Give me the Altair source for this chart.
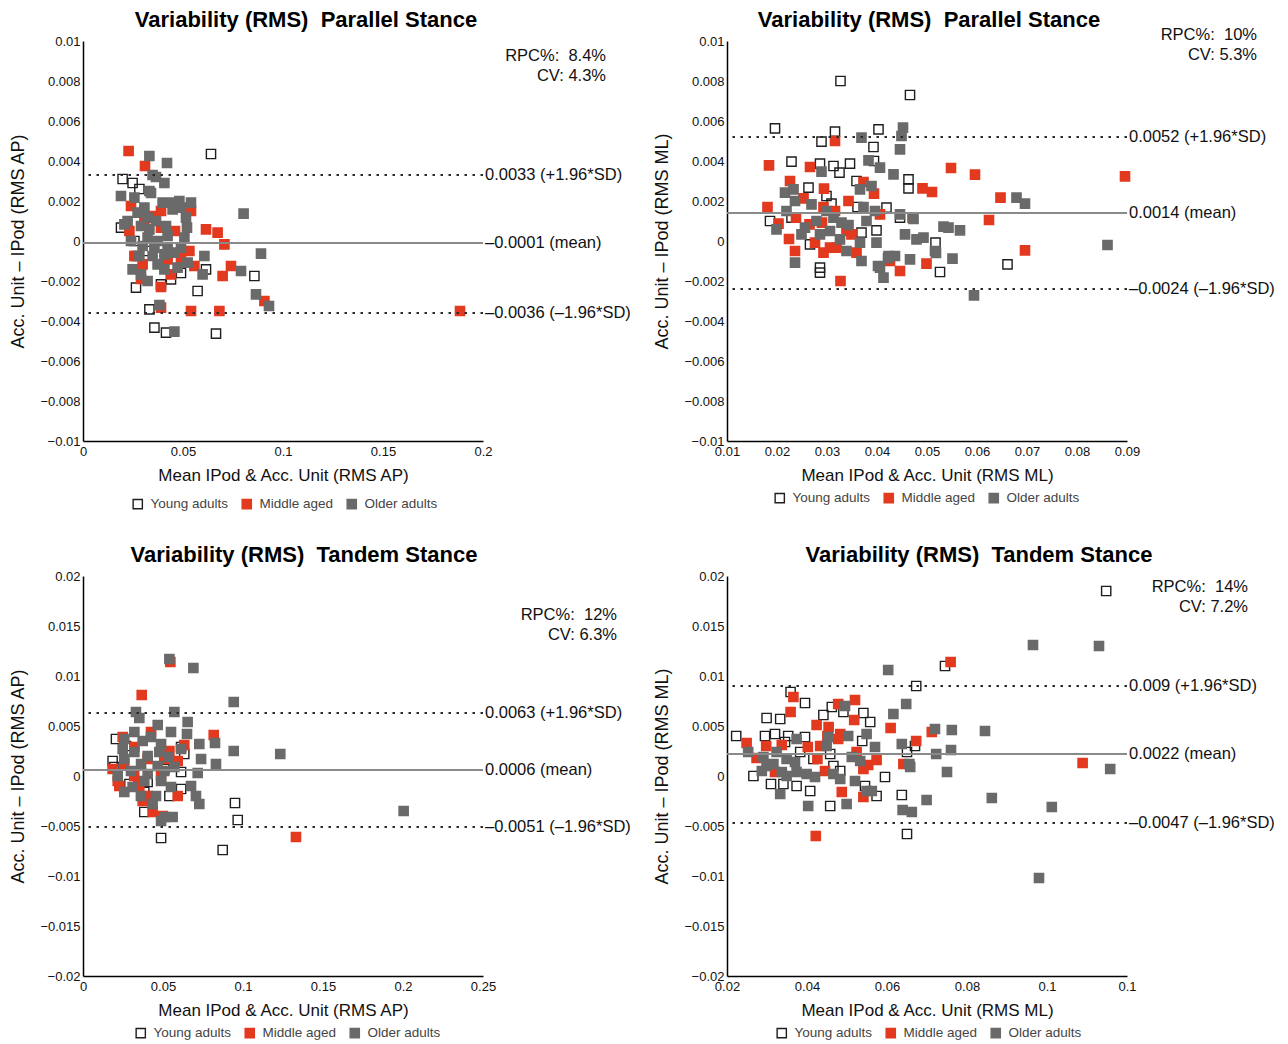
import altair as alt
import pandas as pd

FONT = "Liberation Sans"
GROUPS = ["Young adults", "Middle aged", "Older adults"]
FILL_COLORS = ["transparent", "#e2391f", "#6a6a6a"]
STROKE_COLORS = ["#1e1e1e", "#e2391f", "#6a6a6a"]

# ---------------- Panel 1: Parallel stance, RMS AP ----------------
P1_YOUNG_X = [.0640, .0198, .0248, .0282, .0190, .0257, .0265, .0390, .0440, .0573, .0615, .0857, .0332, .0357, .0415, .0665, .0323, .0490, .0265]
P1_YOUNG_Y = [.00435, .0031, .0029, .0026, .00067, 0, -.00233, -.00217, -.00192, -.0025, -.00142, -.00175, -.00342, -.00433, -.00458, -.00463, -.0005, -.0016, -.00075]
P1_MID_X = [.0228, .0310, .0240, .0348, .0390, .0540, .0232, .0460, .0615, .0673, .0707, .0307, .0390, .0257, .0298, .0423, .0490, .0532, .0557, .0740, .0698, .0907, .0390, .0540, .0682, .0290, .0390, .0440, .1885]
P1_MID_Y = [.0045, .00375, .00175, .00125, .0015, .0015, .0005, .0005, .00058, .00042, -.00017, .00092, .00067, -.00075, -.00117, -.00092, -.00083, -.0005, -.00125, -.00125, -.00175, -.003, -.00333, -.0035, -.0035, -.0019, -.0023, -.00167, -.0035]
P1_OLD_X = [.0332, .0420, .0348, .0365, .0407, .0332, .0190, .0257, .0340, .0398, .0448, .0482, .0540, .0490, .0448, .0515, .0520, .0507, .0803, .0273, .0323, .0365, .0290, .0332, .0415, .0423, .0323, .0373, .0240, .0298, .0357, .0423, .0490, .0282, .0348, .0407, .0457, .0607, .0523, .0373, .0248, .0290, .0323, .0407, .0473, .0598, .0790, .0865, .0930, .0890, .0382, .0457, .0223, .0307, .0207]
P1_OLD_Y = [.00425, .0039, .0033, .0032, .0029, .0025, .00225, .00217, .0024, .00192, .00192, .002, .00192, .00167, .00158, .00117, .00067, .00017, .00137, .00142, .00117, .001, .00075, .00058, .00075, .00025, .00017, 0, 0, -.00025, -.00033, -.00033, -.00033, -.00075, -.00075, -.00067, -.00058, -.00075, -.00108, -.00117, -.00142, -.00167, -.002, -.00142, -.00133, -.00167, -.0015, -.00267, -.00325, -.00063, -.0032, -.00453, .001, .00167, .00083]
P1_LIMITS = [0.0033, -0.0001, -0.0036]
P1_LABELS = ["0.0033 (+1.96*SD)", "\u20130.0001 (mean)", "\u20130.0036 (\u20131.96*SD)"]

# ---------------- Panel 2: Parallel stance, RMS ML ----------------
P2_YOUNG_X = [.0327, .0466, .0196, .0316, .0403, .0289, .0393, .0229, .0286, .0313, .0325, .0346, .0359, .0394, .0463, .0463, .0263, .0299, .0186, .0229, .0309, .0361, .0419, .0399, .0369, .0266, .0286, .0286, .0446, .0517, .0526, .0661]
P2_YOUNG_Y = [.008, .0073, .00563, .00547, .00558, .00497, .0047, .00397, .00387, .00375, .00342, .00387, .003, .004, .00308, .00263, .00267, .00225, .001, .00117, .00187, .0017, .00167, .00053, .00042, -.00017, -.00133, -.00158, .00117, -.00008, -.00155, -.00117]
P2_MID_X = [.0184, .0316, .0266, .0226, .0294, .0253, .0343, .0394, .0181, .0203, .0238, .0265, .0293, .0290, .0316, .0339, .0349, .0406, .0373, .0224, .0276, .0236, .0293, .0306, .0319, .0359, .0327, .0426, .0446, .0491, .0471, .0499, .0548, .0596, .0510, .0647, .0624, .0696, .0896]
P2_MID_Y = [.00378, .005, .0037, .003, .00262, .00213, .002, .00237, .0017, .00087, .00117, .00083, .0017, .00092, .0015, .0005, .00033, .00133, .00295, .0001, -.00008, -.0005, -.00058, -.00033, -.00033, -.00058, -.002, -.001, -.0015, .00263, .00117, -.00113, .00365, .00332, .00245, .00217, .00105, -.00047, .00323]
P2_OLD_X = [.0369, .0449, .0452, .0446, .0383, .0406, .0433, .0289, .0216, .0233, .0236, .0389, .0366, .0269, .0299, .0373, .0396, .0446, .0473, .0219, .0199, .0256, .0279, .0313, .0329, .0343, .0379, .0249, .0286, .0306, .0326, .0366, .0399, .0456, .0479, .0493, .0236, .0339, .0369, .0423, .0436, .0466, .0413, .0406, .0679, .0696, .0533, .0543, .0566, .0516, .0551, .0861, .0594, .0422, .0518, .0402]
P2_OLD_Y = [.00517, .00525, .00567, .00458, .00403, .00367, .00333, .00347, .00242, .00258, .002, .00275, .00258, .00183, .0015, .0017, .0015, .00133, .0011, .0015, .00058, .00067, .001, .00117, .00092, .0008, .001, .00033, .00033, .0005, .00008, -.00008, -.00008, .00033, .00008, .00017, -.00108, -.0005, -.001, -.00075, -.00075, -.00092, -.00183, -.00133, .00217, .00187, .00072, .00067, .00053, -.0005, -.00088, -.0002, -.00272, -.00085, -.0006, -.00125]
P2_LIMITS = [0.0052, 0.0014, -0.0024]
P2_LABELS = ["0.0052 (+1.96*SD)", "0.0014 (mean)", "\u20130.0024 (\u20131.96*SD)"]

# ---------------- Panel 3: Tandem stance, RMS AP ----------------
P3_YOUNG_X = [.0206, .0269, .0613, .0633, .0185, .0196, .0508, .0613, .0290, .0383, .0613, .0383, .0540, .0950, .0967, .0488, .0873, .0404]
P3_YOUNG_Y = [.0037, .0030, .0029, .0022, .0015, .0009, .0007, .0004, -.0008, -.0016, -.0013, -.0036, -.0020, -.0027, -.0044, -.0062, -.0074, -.0006]
P3_MID_X = [.0546, .0367, .0817, .0633, .0248, .0321, .0425, .0540, .0592, .0185, .0258, .0404, .0508, .0217, .0227, .0352, .0404, .0488, .0592, .0373, .0435, .0498, .0320, .1331]
P3_MID_Y = [.0114, .0081, .0041, .0031, .0039, .0029, .0044, .0025, .0015, .0007, .0012, .0017, .0017, -.0005, -.0010, -.0010, -.0020, 0, -.0020, -.0025, -.0036, -.0040, 0, -.0061]
P3_OLD_X = [.0540, .0690, .0942, .0331, .0352, .0571, .0654, .0467, .0321, .0425, .0550, .0650, .0727, .0825, .0942, .1233, .0258, .0373, .0488, .0248, .0321, .0404, .0477, .0533, .0613, .0738, .0831, .0258, .0363, .0467, .0571, .0300, .0404, .0508, .0717, .0217, .0383, .0488, .0675, .0706, .0258, .0362, .0456, .0435, .0550, .0727, .0508, .0560, .0488, .0310, .2004]
P3_OLD_Y = [.0117, .0108, .0074, .0064, .0058, .0064, .0054, .0051, .0044, .0039, .0044, .0042, .0032, .0033, .0025, .0022, .0037, .0035, .0032, .0027, .0024, .0020, .0024, .0019, .0027, .0017, .0012, .0017, .0012, .0010, .0009, .0005, .0002, .0005, .0003, 0, -.0005, -.0005, -.0010, -.0020, -.0016, -.0020, -.0020, -.0028, -.0011, -.0028, -.0041, -.0041, -.0045, -.0011, -.0035]
P3_LIMITS = [0.0063, 0.0006, -0.0051]
P3_LABELS = ["0.0063 (+1.96*SD)", "0.0006 (mean)", "\u20130.0051 (\u20131.96*SD)"]

# ---------------- Panel 4: Tandem stance, RMS ML ----------------
P4_YOUNG_X = [.0223, .0299, .0333, .0359, .0395, .0295, .0320, .0353, .0395, .0266, .0310, .0341, .0374, .0408, .0458, .0441, .0462, .0491, .0541, .0558, .0538, .0458, .0466, .0483, .0545, .0574, .0595, .0637, .0650, .0670, .0673, .0650, .0383, .0345, .0416, .0745, .1148]
P4_YOUNG_Y = [.0040, .0058, .0057, .0084, .0073, .0040, .0042, .0040, .0039, 0, -.0008, -.0008, -.0010, -.0015, -.0030, .0061, .0069, .0064, .0063, .0054, .0035, .0022, .0010, .0005, -.0010, -.0020, -.0001, -.0019, .0024, .0030, .0090, -.0058, .0024, .0034, .0017, .0110, .0185]
P4_MID_X = [.0249, .0274, .0298, .0337, .0366, .0359, .0402, .0424, .0426, .0433, .0454, .0451, .0445, .0478, .0478, .0483, .0520, .0518, .0541, .0553, .0574, .0487, .0541, .0609, .0641, .0673, .0712, .0320, .0422, .0524, .0759, .1089]
P4_MID_Y = [.0033, .0018, .0030, .0031, .0079, .0064, .0029, .0051, .0017, .0030, .0049, .0040, .0005, .0072, .0037, .0042, .0076, .0056, .0007, .0011, .0016, -.0016, -.0021, .0048, .0012, .0035, .0044, .0004, -.0060, .0024, .0114, .0013]
P4_OLD_X = [.0603, .0616, .0648, .0253, .0291, .0299, .0324, .0349, .0374, .0370, .0337, .0349, .0333, .0374, .0399, .0403, .0420, .0449, .0453, .0495, .0503, .0466, .0483, .0512, .0520, .0533, .0549, .0570, .0549, .0562, .0499, .0637, .0656, .0658, .0639, .0662, .0699, .0720, .0723, .0287, .0316, .0762, .0845, .0760, .0750, .0862, .1012, .0965, .1130, .1158, .0980]
P4_OLD_Y = [.0106, .0062, .0072, .0024, .0019, .0010, .0024, .0017, .0037, .0014, .0004, 0, -.0018, .0004, .0002, -.0030, -.0001, .0030, .0039, .0070, .0040, .0002, -.0003, .0019, -.0005, .0015, .0042, .0029, -.0015, -.0015, -.0028, .0032, .0012, .0009, -.0034, -.0036, -.0024, .0047, .0022, .0005, .0012, .0046, .0045, .0026, .0004, -.0022, -.0031, .0131, .0130, .0007, -.0102]
P4_LIMITS = [0.009, 0.0022, -0.0047]
P4_LABELS = ["0.009 (+1.96*SD)", "0.0022 (mean)", "\u20130.0047 (\u20131.96*SD)"]

TITLE_PAR = "Variability (RMS) \u00a0Parallel Stance"
TITLE_TAN = "Variability (RMS) \u00a0Tandem Stance"
XT_AP = "Mean IPod & Acc. Unit (RMS AP)"
XT_ML = "Mean IPod & Acc. Unit (RMS ML)"
YT_AP = "Acc. Unit \u2013 IPod (RMS AP)"
YT_ML = "Acc. Unit \u2013 IPod (RMS ML)"

Y1_TICKS = [0.01, 0.008, 0.006, 0.004, 0.002, 0, -0.002, -0.004, -0.006, -0.008, -0.01]
Y2_TICKS = [0.02, 0.015, 0.01, 0.005, 0, -0.005, -0.01, -0.015, -0.02]


def make_points(yx, yy, mx, my, ox, oy):
    rows = []
    for g, xs, ys in ((GROUPS[0], yx, yy), (GROUPS[1], mx, my), (GROUPS[2], ox, oy)):
        rows += [{"group": g, "x": a, "y": b} for a, b in zip(xs, ys)]
    return pd.DataFrame(rows)


def panel(title, title_offset, title_dx, xdom, xticks, ydom, yticks, xtitle, ytitle, pts,
          limits, labels, stats, stats_x, stats_y, leg_x, leg_y):
    W = H = 400
    xenc = alt.X("x:Q", scale=alt.Scale(domain=xdom, nice=False, zero=False),
                 axis=alt.Axis(values=xticks, format="~g", title=xtitle, labelFlush=False,
                               titleFontSize=17, labelPadding=4, titlePadding=9))
    yenc = alt.Y("y:Q", scale=alt.Scale(domain=ydom, nice=False, zero=False),
                 axis=alt.Axis(values=yticks, format="~g", title=ytitle, labelFlush=False,
                               titleFontSize=18, labelPadding=3, titlePadding=12))
    leg = alt.Legend(title=None, orient="none", legendX=leg_x, legendY=leg_y,
                     direction="horizontal", symbolType="square", symbolSize=85,
                     symbolStrokeWidth=1.4, labelFontSize=13.5, labelColor="#444",
                     labelFont=FONT, columnPadding=10, labelOffset=6, padding=0)
    scatter = alt.Chart(pts).mark_square(size=85, strokeWidth=1.4, opacity=1).encode(
        x=xenc, y=yenc,
        fill=alt.Fill("group:N", scale=alt.Scale(domain=GROUPS, range=FILL_COLORS), legend=leg),
        stroke=alt.Stroke("group:N", scale=alt.Scale(domain=GROUPS, range=STROKE_COLORS), legend=leg),
    )
    lines_df = pd.DataFrame({"y": limits, "kind": ["upper", "mean", "lower"], "label": labels})
    mean = alt.Chart(lines_df).transform_filter("datum.kind == 'mean'").mark_rule(
        color="#8a8a8a", strokeWidth=2).encode(y=yenc)
    sd = alt.Chart(lines_df).transform_filter("datum.kind != 'mean'").mark_rule(
        color="#2a2a2a", strokeWidth=2, strokeDash=[2.5, 5.5]).encode(y=yenc)
    lab = alt.Chart(lines_df).mark_text(
        align="left", baseline="middle", dx=2, fontSize=16.5, font=FONT, color="#111"
    ).encode(x=alt.value(W), y=yenc, text="label:N")
    st = alt.Chart(pd.DataFrame({"t": [stats]})).mark_text(
        align="right", baseline="alphabetic", fontSize=16.5, font=FONT, color="#111",
        lineBreak="\n", lineHeight=20
    ).encode(x=alt.value(stats_x), y=alt.value(stats_y), text="t:N")
    return alt.layer(scatter, mean, sd, lab, st).properties(
        width=W, height=H,
        title=alt.TitleParams(title, anchor="middle", frame="group", fontSize=22, dx=title_dx,
                              fontWeight="bold", font=FONT, color="#000", offset=title_offset),
    )


p1 = panel(TITLE_PAR, 3.5, 23, [0, 0.2], [0, 0.05, 0.1, 0.15, 0.2], [-0.01, 0.01], Y1_TICKS, XT_AP, YT_AP,
           make_points(P1_YOUNG_X, P1_YOUNG_Y, P1_MID_X, P1_MID_Y, P1_OLD_X, P1_OLD_Y),
           P1_LIMITS, P1_LABELS, "RPC%:\u00a0 8.4%\nCV: 4.3%", 523, 19.5, 48, 456)
p2 = panel(TITLE_PAR, -5.5, 2, [0.01, 0.09], [0.01, 0.02, 0.03, 0.04, 0.05, 0.06, 0.07, 0.08, 0.09],
           [-0.01, 0.01], Y1_TICKS, XT_ML, YT_ML,
           make_points(P2_YOUNG_X, P2_YOUNG_Y, P2_MID_X, P2_MID_Y, P2_OLD_X, P2_OLD_Y),
           P2_LIMITS, P2_LABELS, "RPC%:\u00a0 10%\nCV: 5.3%", 530, -1.5, 46, 450)
p3 = panel(TITLE_TAN, 3.5, 21, [0, 0.25], [0, 0.05, 0.1, 0.15, 0.2, 0.25], [-0.02, 0.02], Y2_TICKS, XT_AP, YT_AP,
           make_points(P3_YOUNG_X, P3_YOUNG_Y, P3_MID_X, P3_MID_Y, P3_OLD_X, P3_OLD_Y),
           P3_LIMITS, P3_LABELS, "RPC%:\u00a0 12%\nCV: 6.3%", 534, 43.5, 51, 450)
p4 = panel(TITLE_TAN, 3.5, 52, [0.02, 0.12], [0.02, 0.04, 0.06, 0.08, 0.1, 0.12], [-0.02, 0.02], Y2_TICKS, XT_ML, YT_ML,
           make_points(P4_YOUNG_X, P4_YOUNG_Y, P4_MID_X, P4_MID_Y, P4_OLD_X, P4_OLD_Y),
           P4_LIMITS, P4_LABELS, "RPC%:\u00a0 14%\nCV: 7.2%", 521, 15.5, 48, 450)

chart = alt.concat(p1, p2, p3, p4, columns=2, spacing={"row": 31, "column": 22}).resolve_scale(
    x="independent", y="independent", fill="independent", stroke="independent"
).properties(
    padding={"left": 1, "top": 0, "right": 0, "bottom": 0}, background="white"
).configure_view(stroke=None).configure_axis(
    domainColor="#000", domainWidth=1.5, ticks=False, tickSize=0, grid=False,
    labelFont=FONT, labelFontSize=13, labelColor="#111",
    titleFont=FONT, titleFontWeight="normal", titleColor="#111",
)

chart.save("out.html", embed_options={"renderer": "svg", "actions": False})
